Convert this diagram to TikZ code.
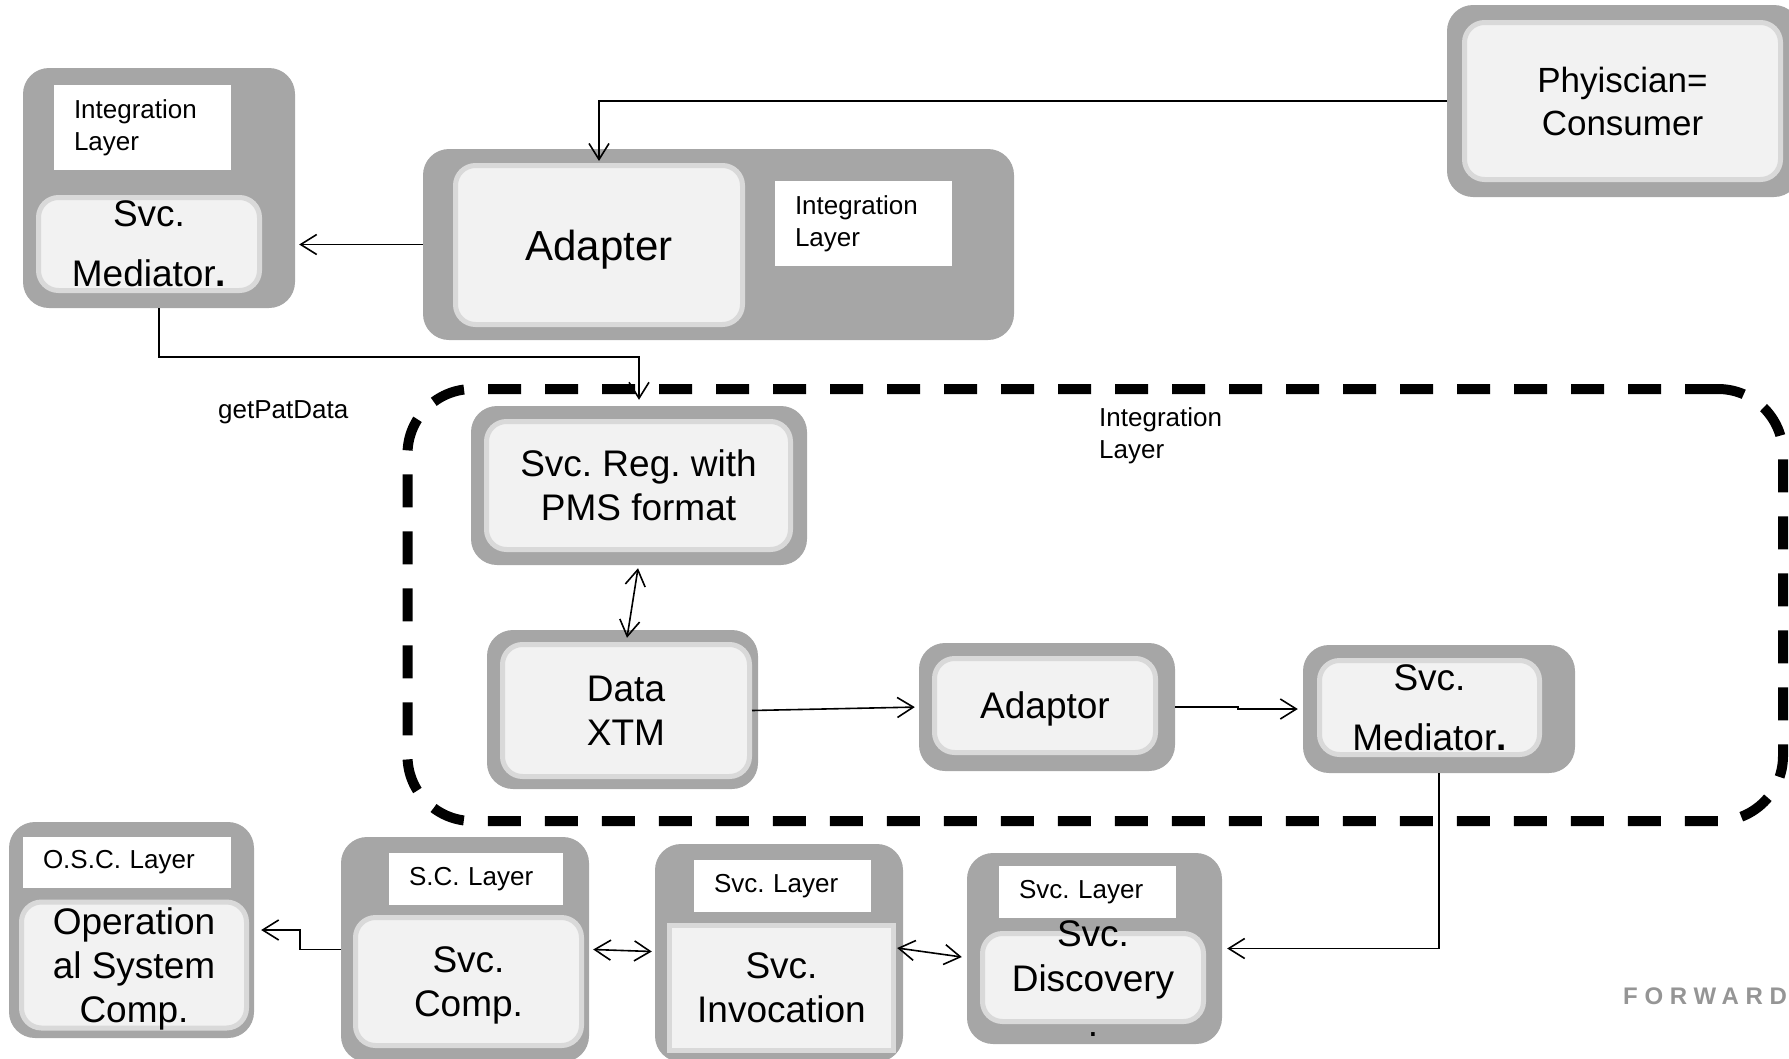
\documentclass[tikz,border=0pt]{standalone}
\usepackage{fontspec}
\setmainfont{Liberation Sans}
\newfontfamily\fwdfamily[LetterSpace=28]{Liberation Sans}
\usetikzlibrary{arrows.meta}
\frenchspacing

\definecolor{shellgray}{HTML}{A6A6A6}
\definecolor{corefill}{HTML}{F2F2F2}
\definecolor{coreedge}{HTML}{D9D9D9}
\definecolor{fwdgray}{HTML}{959595}

\newcommand{\boxfont}{\fontsize{37}{44}\selectfont}
\newcommand{\widefont}{\fontsize{37}{60}\selectfont}
\newcommand{\tagfont}{\fontsize{26}{32}\selectfont}

\begin{document}
\begin{tikzpicture}[
    x=1pt, y=-1pt,
    shell/.style={fill=shellgray, rounded corners=26pt, inner sep=0pt},
    core/.style={fill=corefill, draw=coreedge, line width=5pt, rounded corners=20pt, inner sep=0pt, text depth=0pt, align=center, font=\boxfont},
    tag/.style={fill=white, inner xsep=20pt, inner ysep=0pt, align=left, font=\tagfont},
    conn/.style={-{Straight Barb[length=16pt, width=20pt]}, line width=1.6pt},
    dbl/.style={{Straight Barb[length=16pt, width=20pt]}-{Straight Barb[length=16pt, width=20pt]}, line width=1.6pt},
    zone/.style={draw, line width=10pt, dash pattern=on 33pt off 24pt, rounded corners=65pt}
]
    \useasboundingbox (0,0) rectangle (1789,1058);
    \clip (0,0) rectangle (1789,1058);

    % dashed integration zone
    \node[zone, minimum width=1375.5pt, minimum height=432pt] (zone) at (1095.25,605) {};

    % consumer
    \node[shell, minimum width=353pt, minimum height=192pt] (phys) at (1623.5,101) {};
    \node[core, minimum width=316pt, minimum height=157pt, font=\fontsize{35}{43}\selectfont] (physin) at (1622.5,101) {Phyiscian=\\Consumer};

    % adapter
    \node[shell, minimum width=591pt, minimum height=191pt] (adapter) at (718.5,244.5) {};
    \node[core, minimum width=287pt, minimum height=159pt, font=\fontsize{42}{50}\selectfont] (adapterin) at (599,245) {Adapter};
    \node[tag, text width=137pt, minimum height=85pt] (adapterlbl) at (863.5,223.5) {Integration\\Layer};

    % mediator, top left
    \node[shell, minimum width=272pt, minimum height=240pt] (medtop) at (159,188) {};
    \node[tag, text width=137pt, minimum height=85pt] (medtoplbl) at (142.5,127.5) {Integration\\Layer};
    \node[core, minimum width=221pt, minimum height=93pt, font=\widefont] (medtopin) at (149,244) {Svc.\\Mediator\textbf{.}};

    % inside the zone
    \node[shell, minimum width=336pt, minimum height=159pt] (svcreg) at (639,485.5) {};
    \node[core, minimum width=304pt, minimum height=128pt] (svcregin) at (638.5,485.5) {Svc. Reg. with\\PMS format};

    \node[shell, minimum width=271pt, minimum height=159pt] (xtm) at (622.5,709.5) {};
    \node[core, minimum width=247pt, minimum height=132pt] (xtmin) at (626,710.5) {Data\\XTM};

    \node[shell, minimum width=256pt, minimum height=128pt] (adaptor) at (1047,707) {};
    \node[core, minimum width=221pt, minimum height=94pt] (adaptorin) at (1045,705.5) {Adaptor};

    \node[shell, minimum width=272pt, minimum height=128pt] (medright) at (1439,709) {};
    \node[core, minimum width=220pt, minimum height=94pt, font=\widefont] (medrightin) at (1429.5,707.5) {Svc.\\Mediator\textbf{.}};

    % bottom row
    \node[shell, minimum width=245pt, minimum height=216pt] (osc) at (131.5,930) {};
    \node[tag, text width=168pt, minimum height=51pt] (osclbl) at (127,862.5) {O.S.C. Layer};
    \node[core, minimum width=225pt, minimum height=126pt] (oscin) at (134,965) {Operation\\al System\\Comp.};

    \node[shell, minimum width=248pt, minimum height=225pt] (comp) at (465,949.5) {};
    \node[tag, text width=134pt, minimum height=52pt] (complbl) at (476,879) {S.C. Layer};
    \node[core, minimum width=226pt, minimum height=128pt] (compin) at (468.5,981.5) {Svc.\\Comp.};

    \node[shell, minimum width=248pt, minimum height=218pt] (invoc) at (779,953) {};
    \node[tag, text width=137pt, minimum height=52pt] (invoclbl) at (782.5,886) {Svc. Layer};
    \node[core, sharp corners, minimum width=224pt, minimum height=125pt] (invocin) at (781.5,988) {Svc.\\Invocation};

    \node[shell, minimum width=255pt, minimum height=191pt] (disc) at (1094.5,948.5) {};
    \node[tag, text width=137pt, minimum height=52pt] (disclbl) at (1087.5,892) {Svc. Layer};
    \node[core, minimum width=221pt, minimum height=88pt] (discin) at (1093,977.5) {};
    \node[align=center, inner sep=0pt, font=\fontsize{37}{45}\selectfont] (disctxt) at (1093,978.5) {Svc.\\Discovery\\.};

    % free labels
    \node[anchor=west, inner sep=0pt, font=\tagfont] (patlbl) at (218,412) {getPatData};
    \node[anchor=north west, inner sep=0pt, align=left, font=\tagfont] (zonelbl) at (1099,407) {Integration\\Layer};
    \node[anchor=base west, inner sep=0pt, text=fwdgray, font=\fwdfamily\bfseries\fontsize{24}{30}\selectfont] (fwd) at (1623,1004) {FORWARD};

    % connectors
    \draw[conn, shorten >=2pt] (phys.west) -| (adapterin.north);
    \draw[conn, shorten >=4pt] (adapter.west) -- (adapter.west -| medtop.east);
    \coordinate (regdrop) at (639,357);
    \draw[conn, shorten >=6pt] (medtop.south) |- (regdrop) -- (svcreg.north);
    \draw[dbl] ([shift={(-1,3)}]svcreg.south) -- ([shift={(4.5,8)}]xtm.north);
    \draw[conn, shorten >=4pt] (xtmin.east) -- (adaptor.west);
    \draw[conn, shorten >=5pt] (adaptor.east) -- ++(63,0) |- (medright.west);
    \draw[conn, shorten >=5pt] (medright.south) |- (disc.east);
    \draw[dbl] ([shift={(-6,-5)}]invoc.east) -- ([shift={(-5,8.5)}]disc.west);
    \draw[dbl] ([xshift=4]comp.east) -- ([shift={(-3,2)}]comp.east -| invoc.west);
    \draw[conn, shorten >=7pt] (comp.west) -- ++(-41,0) |- (osc.east);
\end{tikzpicture}
\end{document}
